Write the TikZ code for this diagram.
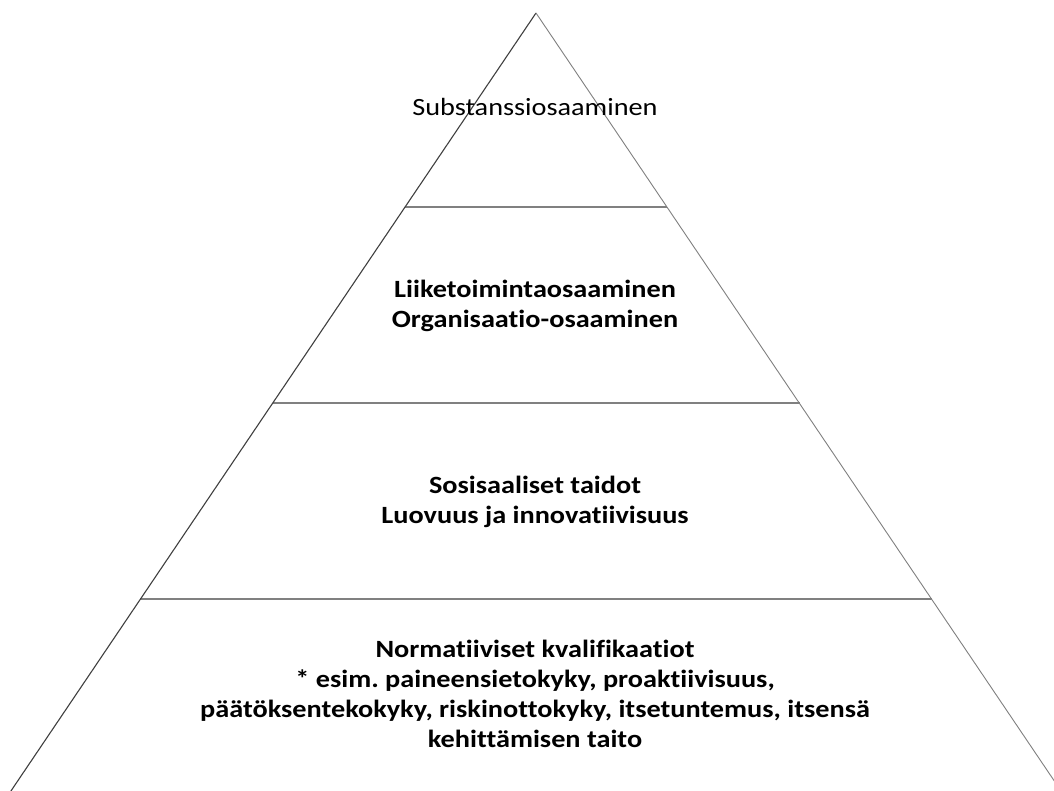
\documentclass[tikz,border=0pt]{standalone}
\usepackage{fontspec}
\setmainfont[Ligatures=NoCommon,FakeStretch=1.14]{Carlito}
\begin{document}
\frenchspacing
\begin{tikzpicture}[x=1pt,y=-1pt,
  edgeL/.style={draw=black!75,line width=1.1pt},
  edgeR/.style={draw=black!50,line width=0.9pt},
  sep/.style={draw=black!50,line width=1.4pt},
  lbl/.style={font=\fontsize{24.8}{30}\selectfont,align=center,inner sep=0pt},
  lblb/.style={lbl,font=\fontsize{24.8}{30}\selectfont\bfseries}]
\useasboundingbox (0,0) rectangle (1054,791);
\clip (0,0) rectangle (1054,791);
\fill[white] (0,0) rectangle (1054,791);
\coordinate (apex) at (536,13);
\coordinate (bl) at (-10,822);
\coordinate (br) at (1082,822);
\coordinate (l1) at (404.9,207);
\coordinate (r1) at (667.1,207);
\coordinate (l2) at (272.5,403);
\coordinate (r2) at (799.5,403);
\coordinate (l3) at (140,599);
\coordinate (r3) at (932,599);
\draw[sep] (l1) -- (r1);
\draw[sep] (l2) -- (r2);
\draw[sep] (l3) -- (r3);
\draw[edgeL] (apex) -- (bl);
\draw[edgeR] (apex) -- (br);
\node[lbl,anchor=base] (t1) at (535,116) {Substanssiosaaminen};
\node[lblb] (t2) at (535,305.5) {Liiketoimintaosaaminen\\Organisaatio-osaaminen};
\node[lblb] (t3) at (535,502) {Sosisaaliset taidot\\Luovuus ja innovatiivisuus};
\node[lblb] (t4) at (535,694) {Normatiiviset kvalifikaatiot\\ * esim. paineensietokyky, proaktiivisuus,\\päätöksentekokyky, riskinottokyky, itsetuntemus, itsensä\\kehittämisen taito};
\end{tikzpicture}
\end{document}
